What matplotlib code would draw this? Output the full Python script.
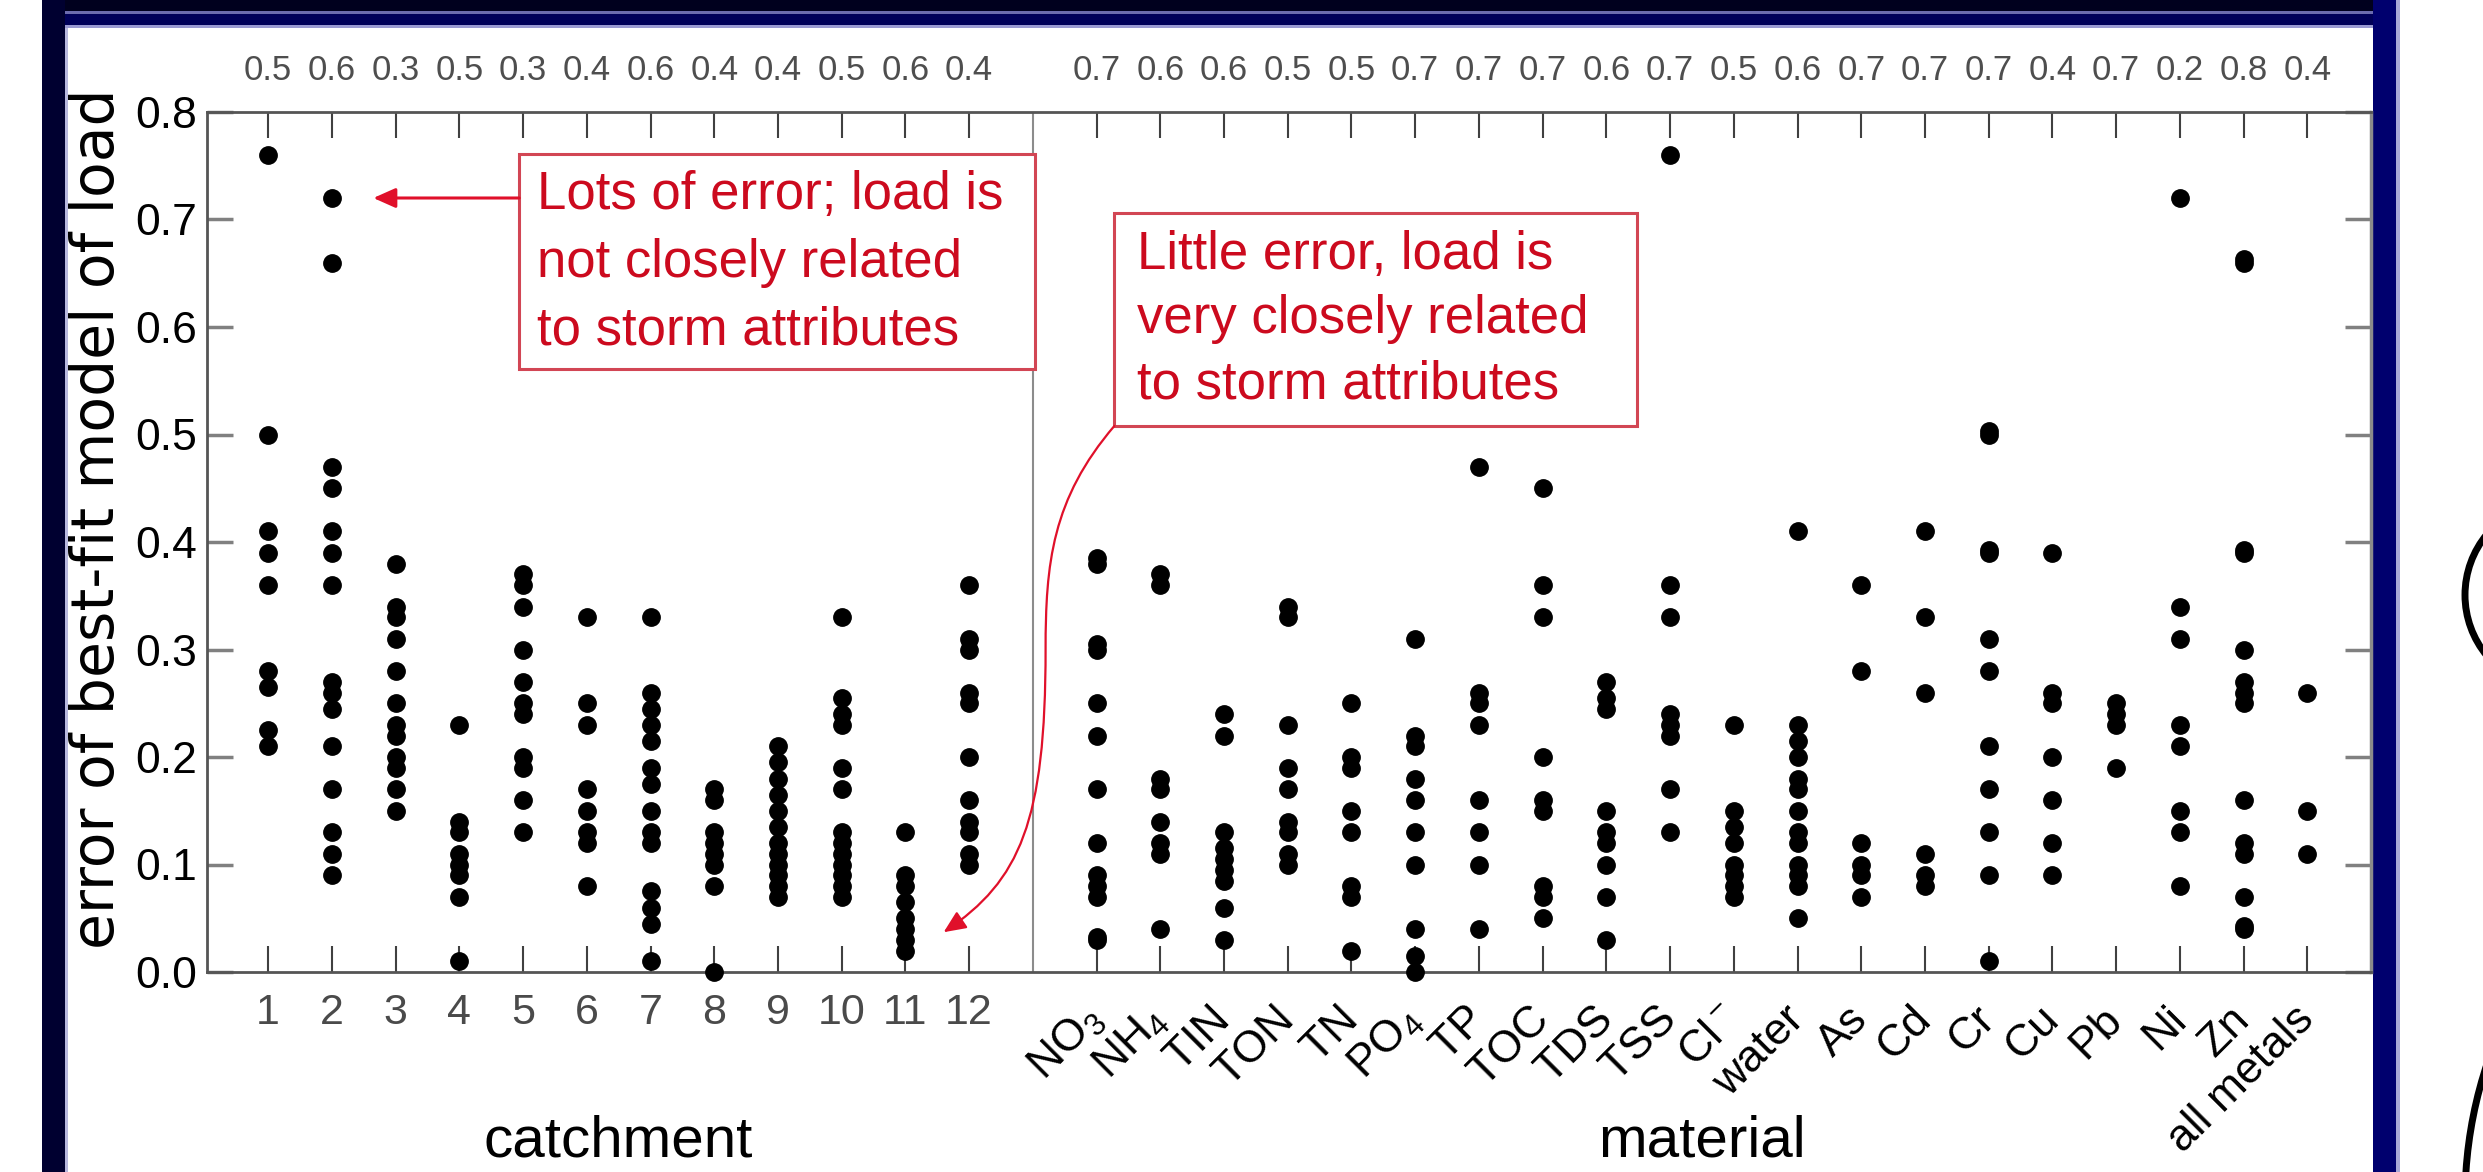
import numpy as np
import matplotlib.pyplot as plt
from matplotlib.patches import Rectangle, FancyArrowPatch, Arc
from matplotlib.path import Path
from matplotlib.transforms import Affine2D

plt.rcParams['font.family'] = ['Liberation Sans', 'DejaVu Sans']
plt.rcParams['mathtext.default'] = 'regular'

# --- values ---
catchments = [str(i) for i in range(1, 13)]
catchment_top = [0.5, 0.6, 0.3, 0.5, 0.3, 0.4, 0.6, 0.4, 0.4, 0.5, 0.6, 0.4]
catchment_err = [
    [0.76, 0.50, 0.41, 0.39, 0.36, 0.28, 0.265, 0.225, 0.21],
    [0.72, 0.66, 0.47, 0.45, 0.41, 0.39, 0.36, 0.27, 0.26, 0.245, 0.21, 0.17, 0.13, 0.11, 0.09],
    [0.38, 0.34, 0.33, 0.31, 0.28, 0.25, 0.23, 0.22, 0.20, 0.19, 0.17, 0.15],
    [0.23, 0.14, 0.13, 0.11, 0.10, 0.09, 0.07, 0.01],
    [0.37, 0.36, 0.34, 0.30, 0.27, 0.25, 0.24, 0.20, 0.19, 0.16, 0.13],
    [0.33, 0.25, 0.23, 0.17, 0.15, 0.13, 0.12, 0.08],
    [0.33, 0.26, 0.245, 0.23, 0.215, 0.19, 0.175, 0.15, 0.13, 0.12, 0.075, 0.06, 0.045, 0.01],
    [0.17, 0.16, 0.13, 0.12, 0.11, 0.10, 0.08, 0.0],
    [0.21, 0.195, 0.18, 0.165, 0.15, 0.135, 0.12, 0.11, 0.10, 0.09, 0.08, 0.07],
    [0.33, 0.255, 0.24, 0.23, 0.19, 0.17, 0.13, 0.12, 0.11, 0.10, 0.09, 0.08, 0.07],
    [0.13, 0.09, 0.08, 0.065, 0.05, 0.04, 0.03, 0.02],
    [0.36, 0.31, 0.30, 0.26, 0.25, 0.20, 0.16, 0.14, 0.13, 0.11, 0.10],
]

materials = ['NO$_3$', 'NH$_4$', 'TIN', 'TON', 'TN', 'PO$_4$', 'TP', 'TOC', 'TDS', 'TSS',
             'Cl$^-$', 'water', 'As', 'Cd', 'Cr', 'Cu', 'Pb', 'Ni', 'Zn', 'all metals']
material_top = [0.7, 0.6, 0.6, 0.5, 0.5, 0.7, 0.7, 0.7, 0.6, 0.7,
                0.5, 0.6, 0.7, 0.7, 0.7, 0.4, 0.7, 0.2, 0.8, 0.4]
material_err = [
    [0.38, 0.385, 0.30, 0.305, 0.25, 0.22, 0.17, 0.12, 0.09, 0.08, 0.07, 0.03, 0.033],
    [0.37, 0.36, 0.18, 0.17, 0.14, 0.12, 0.11, 0.04],
    [0.24, 0.22, 0.13, 0.115, 0.105, 0.095, 0.085, 0.06, 0.03],
    [0.34, 0.33, 0.23, 0.19, 0.17, 0.14, 0.13, 0.11, 0.10],
    [0.25, 0.20, 0.19, 0.15, 0.13, 0.08, 0.07, 0.02],
    [0.31, 0.22, 0.21, 0.18, 0.16, 0.13, 0.10, 0.04, 0.015, 0.0],
    [0.47, 0.26, 0.25, 0.23, 0.16, 0.13, 0.10, 0.04],
    [0.45, 0.36, 0.33, 0.20, 0.16, 0.15, 0.08, 0.07, 0.05],
    [0.27, 0.255, 0.245, 0.15, 0.13, 0.12, 0.10, 0.07, 0.03],
    [0.76, 0.36, 0.33, 0.24, 0.23, 0.22, 0.17, 0.13],
    [0.23, 0.15, 0.135, 0.12, 0.10, 0.09, 0.08, 0.07],
    [0.41, 0.23, 0.215, 0.20, 0.18, 0.17, 0.15, 0.13, 0.12, 0.10, 0.09, 0.08, 0.05],
    [0.36, 0.28, 0.12, 0.10, 0.09, 0.07],
    [0.41, 0.33, 0.26, 0.11, 0.09, 0.08],
    [0.50, 0.503, 0.39, 0.393, 0.31, 0.28, 0.21, 0.17, 0.13, 0.09, 0.01],
    [0.39, 0.26, 0.25, 0.20, 0.16, 0.12, 0.09],
    [0.25, 0.24, 0.23, 0.19],
    [0.72, 0.34, 0.31, 0.23, 0.21, 0.15, 0.13, 0.08],
    [0.66, 0.663, 0.39, 0.393, 0.30, 0.27, 0.26, 0.25, 0.16, 0.12, 0.11, 0.07, 0.04, 0.043],
    [0.26, 0.15, 0.11],
]

RED = '#cc0a1e'
BOX = '#d24654'

W, H = 2483, 1172
fig = plt.figure(figsize=(W / 100, H / 100), dpi=100)
fig.patch.set_facecolor('white')

# pixel transform (y down) for the slide frame
px = Affine2D().scale(1 / W, -1 / H).translate(0, 1) + fig.transFigure


def frame_rect(x0, y0, x1, y1, color):
    fig.add_artist(Rectangle((x0, y0), x1 - x0, y1 - y0, transform=px,
                             facecolor=color, edgecolor='none', zorder=0))


# slide border
frame_rect(42, 0, 2400, 28, '#000058')
frame_rect(42, 0, 2400, 11, '#00001e')
frame_rect(42, 11, 2400, 14, '#6c6cae')
frame_rect(42, 25, 2400, 28, '#9a9ad2')
frame_rect(42, 0, 65, H, '#000030')
frame_rect(65, 28, 68, H, '#b8b8de')
frame_rect(2373, 0, 2396, H, '#00006e')
frame_rect(2396, 0, 2400, H, '#a8a8d6')
# bits of the neighbouring slide graphic on the far right
fig.add_artist(Arc((2560, 595), 190, 190, theta1=140, theta2=220,
                   transform=px, color='black', lw=5))
fig.add_artist(Arc((2896, 1200), 862, 862, theta1=150, theta2=210,
                   transform=px, color='black', lw=5))

ax = fig.add_axes([207 / W, 1 - 972 / H, 2164 / W, 860 / H])
ax.set_facecolor('white')

cat_x = np.arange(1, 13)
mat_x = np.arange(14, 34)

for x, vals in zip(cat_x, catchment_err):
    ax.plot(np.full(len(vals), x), vals, 'o', color='black', ms=12.5,
            clip_on=False, zorder=4)
for x, vals in zip(mat_x, material_err):
    ax.plot(np.full(len(vals), x), vals, 'o', color='black', ms=12.5,
            clip_on=False, zorder=4)

ax.set_xlim(0.04, 34.0)
ax.set_ylim(0, 0.8)
ax.axvline(13, color='#8c8c8c', lw=1.5, zorder=2)

# axes frame
for side in ['left', 'bottom', 'top']:
    ax.spines[side].set_color('#555555')
    ax.spines[side].set_linewidth(2)
ax.spines['right'].set_color('#8a8a8a')
ax.spines['right'].set_linewidth(2.5)

# y axis
yt = np.arange(0, 0.81, 0.1)
ax.set_yticks(yt, [f'{v:.1f}' for v in yt])
ax.tick_params(axis='y', direction='in', length=19, width=2.5, color='#808080',
               left=True, right=True, pad=7, labelsize=32)

# x axis
ax.set_xticks(np.concatenate([cat_x, mat_x]), catchments + materials)
ax.tick_params(axis='x', direction='in', length=19, width=1.5, color='#404040',
               top=True, bottom=True, pad=29.5)
labels = ax.get_xticklabels()
for lab in labels[:12]:
    lab.set(color='#4a4a4a', fontsize=31, va='center')
for lab in labels[12:]:
    lab.set(rotation=45, ha='right', va='center', rotation_mode='anchor',
            fontsize=32, color='black')

# numbers above the plot
for x, v in zip(np.concatenate([cat_x, mat_x]), catchment_top + material_top):
    ax.text(x, 1.0488, f'{v:.1f}', transform=ax.get_xaxis_transform(),
            ha='center', va='center', fontsize=25, color='#4e4e4e')

ax.set_ylabel('error of best-fit model of load', fontsize=42, va='center',
              family='DejaVu Sans')
ax.yaxis.set_label_coords(-0.0508, 0.527)

ax.text(6.5, -0.2285, 'catchment', transform=ax.get_xaxis_transform(),
        ha='center', va='bottom', fontsize=42)
ax.text(23.5, -0.2285, 'material', transform=ax.get_xaxis_transform(),
        ha='center', va='bottom', fontsize=42)

# annotation boxes
ax.add_patch(Rectangle((4.94, 0.561), 13.04 - 4.94, 0.761 - 0.561,
                       facecolor='white', edgecolor=BOX, lw=2.2, zorder=5))
ax.text(5.22, 0.66, 'Lots of error; load is\nnot closely related\nto storm attributes',
        ha='left', va='center', fontsize=38, color=RED, linespacing=1.45, zorder=6)
ax.annotate('', xy=(2.65, 0.72), xytext=(4.94, 0.72),
            arrowprops=dict(arrowstyle='-|>,head_length=0.45,head_width=0.2',
                            color='#e0102a', lw=2.2, mutation_scale=30,
                            shrinkA=0, shrinkB=0), zorder=6)

ax.add_patch(Rectangle((14.28, 0.508), 22.48 - 14.28, 0.706 - 0.508,
                       facecolor='white', edgecolor=BOX, lw=2.2, zorder=5))
ax.text(14.64, 0.607, 'Little error, load is\nvery closely related\nto storm attributes',
        ha='left', va='center', fontsize=38, color=RED, linespacing=1.38, zorder=6)
curve = Path([(14.28, 0.508), (13.3, 0.44), (13.2, 0.38), (13.2, 0.30),
              (13.2, 0.14), (12.8, 0.085), (11.6, 0.037)],
             [Path.MOVETO, Path.CURVE4, Path.CURVE4, Path.CURVE4,
              Path.CURVE4, Path.CURVE4, Path.CURVE4])
ax.add_patch(FancyArrowPatch(path=curve, arrowstyle='-|>,head_length=0.45,head_width=0.2',
                             mutation_scale=30, color='#e0102a', lw=1.6, zorder=6))

fig.savefig('out.png', dpi=100, facecolor='white')
